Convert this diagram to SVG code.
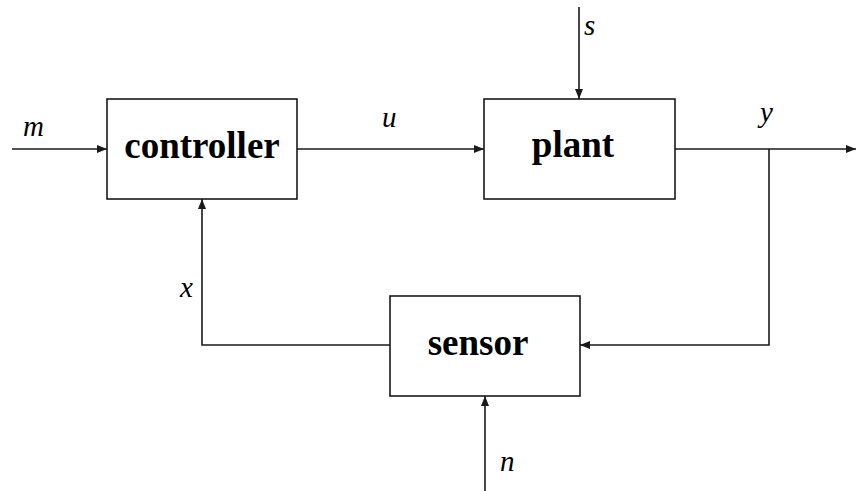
<svg xmlns="http://www.w3.org/2000/svg" width="857" height="491" viewBox="0 0 857 491">
<style>
.box{fill:#fff;stroke:#1a1a1a;stroke-width:1.6}
.ln{fill:none;stroke:#1a1a1a;stroke-width:1.6}
.t{font-family:"Liberation Serif",serif;font-weight:bold;font-size:37px;fill:#000;text-anchor:middle}
.v{font-family:"Liberation Serif",serif;font-style:italic;font-size:29px;fill:#000}
</style>
<defs>
<marker id="ah" viewBox="0 0 10 8" refX="10" refY="4" markerWidth="10" markerHeight="8" markerUnits="userSpaceOnUse" orient="auto">
<path d="M0,0 L10,4 L0,8 Z" fill="#1a1a1a"/>
</marker>
</defs>
<g id="connectors">
<line class="ln" x1="12" y1="149" x2="107" y2="149" marker-end="url(#ah)"/>
<line class="ln" x1="297" y1="149" x2="484" y2="149" marker-end="url(#ah)"/>
<line class="ln" x1="579" y1="7" x2="579" y2="99" marker-end="url(#ah)"/>
<line class="ln" x1="675" y1="149" x2="856" y2="149" marker-end="url(#ah)"/>
<polyline class="ln" points="769,149 769,345 580,345" marker-end="url(#ah)"/>
<polyline class="ln" points="390,345 202,345 202,199" marker-end="url(#ah)"/>
<line class="ln" x1="485" y1="491" x2="485" y2="396" marker-end="url(#ah)"/>
</g>
<g id="controller">
<rect class="box" x="107" y="99" width="190" height="100"/>
<text class="t" x="202" y="158">controller</text>
</g>
<g id="plant">
<rect class="box" x="484" y="99" width="191" height="100"/>
<text class="t" x="573" y="157">plant</text>
</g>
<g id="sensor">
<rect class="box" x="390" y="296" width="190" height="100"/>
<text class="t" x="478" y="355">sensor</text>
</g>
<g id="labels">
<text class="v" x="23" y="136">m</text>
<text class="v" x="382" y="127">u</text>
<text class="v" x="584" y="35">s</text>
<text class="v" x="760" y="122">y</text>
<text class="v" x="180" y="297">x</text>
<text class="v" x="500" y="471">n</text>
</g>
</svg>
